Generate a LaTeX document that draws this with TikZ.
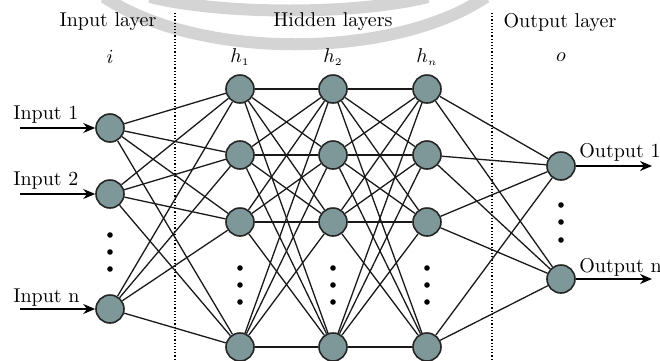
\documentclass[tikz,border=0pt]{standalone}
\usetikzlibrary{arrows.meta}
\definecolor{nodefill}{RGB}{126,152,154}
\definecolor{wm}{RGB}{212,212,212}
\begin{document}
\begin{tikzpicture}[x=0.5pt,y=-0.5pt,
  neuron/.style={circle,draw=black!85,line width=0.8pt,fill=nodefill,minimum size=14pt,inner sep=0pt},
  edge/.style={line width=0.65pt,black!90},
  io/.style={line width=0.65pt,-{Stealth[length=6pt,width=5pt]}},
  vdot/.style={circle,fill=black,inner sep=0pt,minimum size=2.8pt},
  sep/.style={densely dotted,line width=0.6pt},
  wmark/.style={wm,line width=6pt},
  txt/.style={inner sep=0pt}]
\useasboundingbox (0,0) rectangle (660,360);
\clip (0,0) rectangle (660,360);
% watermark arcs
\draw[wmark] (104,-3) .. controls (198,60) and (392,60) .. (486,-3);
\draw[wmark] (150,-3) .. controls (222,15) and (356,15) .. (428,-3);
% separators
\coordinate (s1t) at (175,13); \coordinate (s1b) at (175,362);
\coordinate (s2t) at (492,13); \coordinate (s2b) at (492,362);
\draw[sep] (s1t) -- (s1b);
\draw[sep] (s2t) -- (s2b);
% headings
\node[txt] (hin) at (108,22) {Input layer};
\node[txt] (hhid) at (333,22) {Hidden layers};
\node[txt] (hout) at (560,22) {Output layer};
\node[txt] (mi) at (110,57) {$i$};
\node[txt] (mh1) at (240,57) {$h_{\scriptscriptstyle 1}$};
\node[txt] (mh2) at (333,57) {$h_{\scriptscriptstyle 2}$};
\node[txt] (mhn) at (427,57) {$h_{\scriptscriptstyle n}$};
\node[txt] (mo) at (561,57) {$o$};
% neurons
\node[neuron] (in1) at (110,128) {};
\node[neuron] (in2) at (110,194) {};
\node[neuron] (inn) at (110,309) {};
\foreach \c/\x in {a/240,b/333,c/427}{
  \node[neuron] (\c1) at (\x,89) {};
  \node[neuron] (\c2) at (\x,155) {};
  \node[neuron] (\c3) at (\x,222) {};
  \node[neuron] (\c4) at (\x,347) {};
  \node[vdot] (\c d1) at (\x,268) {};
  \node[vdot] (\c d2) at (\x,285) {};
  \node[vdot] (\c d3) at (\x,302) {};
}
\node[neuron] (o1) at (561,166) {};
\node[neuron] (on) at (561,279) {};
\node[vdot] (id1) at (110,235) {};
\node[vdot] (id2) at (110,252) {};
\node[vdot] (id3) at (110,269) {};
\node[vdot] (od1) at (561,205) {};
\node[vdot] (od2) at (561,222) {};
\node[vdot] (od3) at (561,240) {};
% edges
\foreach \s in {in1,in2,inn}
  \foreach \t in {a1,a2,a3,a4}
    \draw[edge] (\s) -- (\t);
\foreach \i in {1,2,3,4}
  \foreach \j in {1,2,3,4}{
    \draw[edge] (a\i) -- (b\j);
    \draw[edge] (b\i) -- (c\j);
  }
\foreach \s in {c1,c2,c3,c4}
  \foreach \t in {o1,on}
    \draw[edge] (\s) -- (\t);
% inputs / outputs
\coordinate (x1) at (20,128);
\coordinate (x2) at (20,194);
\coordinate (xn) at (20,309);
\coordinate (y1) at (652,166);
\coordinate (yn) at (652,279);
\draw[io] (x1) -- (in1);
\draw[io] (x2) -- (in2);
\draw[io] (xn) -- (inn);
\draw[io] (o1) -- (y1);
\draw[io] (on) -- (yn);
\node[txt,anchor=west] (lx1) at (13,115) {Input 1};
\node[txt,anchor=west] (lx2) at (13,181) {Input 2};
\node[txt,anchor=west] (lxn) at (13,298) {Input n};
\node[txt,anchor=west] (ly1) at (579,152) {Output 1};
\node[txt,anchor=west] (lyn) at (579,267) {Output n};
\end{tikzpicture}
\end{document}
